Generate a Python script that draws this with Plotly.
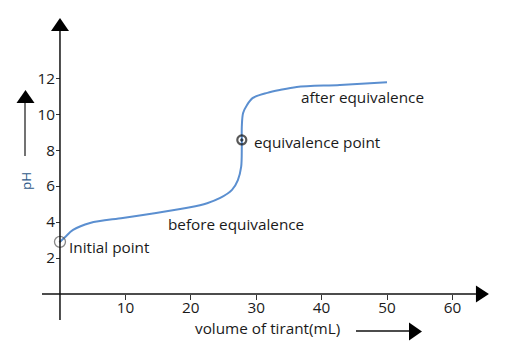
import plotly.graph_objects as go

# ---- data ----
volume_ml = [0, 0.8, 2.0, 4.6, 9.6, 14.7, 19.9, 22.5, 24.5, 26.3, 27.2, 27.7, 27.8, 27.8,
             28.0, 28.6, 29.5, 31.7, 33.6, 36.2, 42.8, 50.0]
ph_values = [2.9, 3.17, 3.56, 3.95, 4.23, 4.51, 4.82, 5.05, 5.34, 5.79, 6.34, 7.07, 8.18, 9.29,
             10.07, 10.52, 10.91, 11.19, 11.35, 11.52, 11.63, 11.78]
point_x = [0, 27.8]
point_y = [2.9, 8.57]
point_names = ["Initial point", "equivalence point"]
region_names = ["before equivalence", "after equivalence"]
region_x = [16.4, 36.8]
region_y = [3.9, 10.96]
x_ticks = [10, 20, 30, 40, 50, 60]
y_ticks = [2, 4, 6, 8, 10, 12]

W, H = 515, 357
# axis ranges (layout)
XMIN, XMAX = -9.17, 69.57
YMIN, YMAX = -3.51, 16.36

def px(xp):
    return xp / W

def py(yp):
    return 1 - yp / H

FONT = "Open Sans"
TXT = "#1a1a1a"
FS = 15.3

fig = go.Figure()

fig.add_trace(go.Scatter(
    x=volume_ml, y=ph_values, mode="lines",
    line=dict(color="#5b8fd0", width=2, shape="spline", smoothing=0.9),
    hoverinfo="skip", showlegend=False))

fig.add_trace(go.Scatter(
    x=point_x, y=point_y, mode="markers",
    marker=dict(symbol="circle-open-dot", size=[11, 9],
                color=["#555555", "#111111"], line=dict(width=[1.3, 2.2], color=["#555555", "#111111"])),
    hoverinfo="skip", showlegend=False))

shapes = []
# axis lines
shapes.append(dict(type="line", xref="x", yref="y", x0=-2.75, x1=63.6, y0=0, y1=0,
                   line=dict(color="#111111", width=1.5)))
shapes.append(dict(type="line", xref="x", yref="y", x0=0, x1=0, y0=-1.45, y1=14.64,
                   line=dict(color="#111111", width=1.5)))
# arrow heads on axes
shapes.append(dict(type="path", xref="x", yref="y", xsizemode="pixel", ysizemode="pixel",
                   xanchor=0, yanchor=14.64, path="M -9 0 L 9 0 L 0 13 Z",
                   fillcolor="black", line=dict(width=0)))
shapes.append(dict(type="path", xref="x", yref="y", xsizemode="pixel", ysizemode="pixel",
                   xanchor=63.6, yanchor=0, path="M 0 -8.5 L 0 8.5 L 13 0 Z",
                   fillcolor="black", line=dict(width=0)))
# pH arrow
shapes.append(dict(type="line", xref="paper", yref="paper", x0=px(25), x1=px(25),
                   y0=py(156), y1=py(103), line=dict(color="#444444", width=1.5)))
shapes.append(dict(type="path", xref="paper", yref="paper", xsizemode="pixel", ysizemode="pixel",
                   xanchor=px(25.5), yanchor=py(103), path="M -9 0 L 9 0 L 0 13 Z",
                   fillcolor="black", line=dict(width=0)))
# x label arrow
shapes.append(dict(type="line", xref="paper", yref="paper", x0=px(356), x1=px(409),
                   y0=py(331), y1=py(331), line=dict(color="#111111", width=1.5)))
shapes.append(dict(type="path", xref="paper", yref="paper", xsizemode="pixel", ysizemode="pixel",
                   xanchor=px(409), yanchor=py(331.5), path="M 0 -9 L 0 9 L 13 0 Z",
                   fillcolor="black", line=dict(width=0)))

annotations = []
annotations.append(dict(x=point_x[0] + 1.0, y=point_y[0] - 0.3, xref="x", yref="y",
                        text=point_names[0], showarrow=False, xanchor="left", yanchor="middle",
                        font=dict(family=FONT, size=FS, color=TXT)))
annotations.append(dict(x=point_x[1] + 1.6, y=point_y[1] - 0.1, xref="x", yref="y",
                        text=point_names[1], showarrow=False, xanchor="left", yanchor="middle",
                        font=dict(family=FONT, size=FS, color=TXT)))
for name, rx, ry in zip(region_names, region_x, region_y):
    annotations.append(dict(x=rx - 0.2, y=ry, xref="x", yref="y", text=name, showarrow=False,
                            xanchor="left", yanchor="middle",
                            font=dict(family=FONT, size=FS, color=TXT)))
annotations.append(dict(x=px(267), y=py(328), xref="paper", yref="paper",
                        xanchor="center", yanchor="middle",
                        text="volume of tirant(mL)", showarrow=False,
                        font=dict(family=FONT, size=FS, color=TXT)))
annotations.append(dict(x=px(26), y=py(181), xref="paper", yref="paper", text="pH",
                        xanchor="center", yanchor="middle",
                        showarrow=False, textangle=-90,
                        font=dict(family=FONT, size=13.5, color="#2f5a8a")))

fig.update_layout(
    width=W, height=H,
    margin=dict(l=0, r=0, t=0, b=0),
    paper_bgcolor="white", plot_bgcolor="white",
    showlegend=False,
    shapes=shapes, annotations=annotations,
    xaxis=dict(range=[XMIN, XMAX], showgrid=False, zeroline=False, showline=False,
               anchor="free", position=(0 - YMIN) / (YMAX - YMIN),
               tickmode="array", tickvals=x_ticks, ticktext=[str(v) for v in x_ticks],
               ticks="outside", ticklen=5, tickwidth=1, tickcolor="#333333",
               ticklabelstandoff=-5,
               tickfont=dict(family=FONT, size=FS, color=TXT), fixedrange=True),
    yaxis=dict(range=[YMIN, YMAX], showgrid=False, zeroline=False, showline=False,
               anchor="free", position=(0 - XMIN) / (XMAX - XMIN),
               tickmode="array", tickvals=y_ticks, ticktext=[str(v) for v in y_ticks],
               ticks="outside", ticklen=4, tickwidth=1, tickcolor="#333333",
               ticklabelstandoff=-2,
               tickfont=dict(family=FONT, size=FS, color=TXT), fixedrange=True),
)

fig.write_html("out.html", config={"displayModeBar": False},
               post_script="document.body.style.margin='0';document.body.style.overflow='hidden';")
